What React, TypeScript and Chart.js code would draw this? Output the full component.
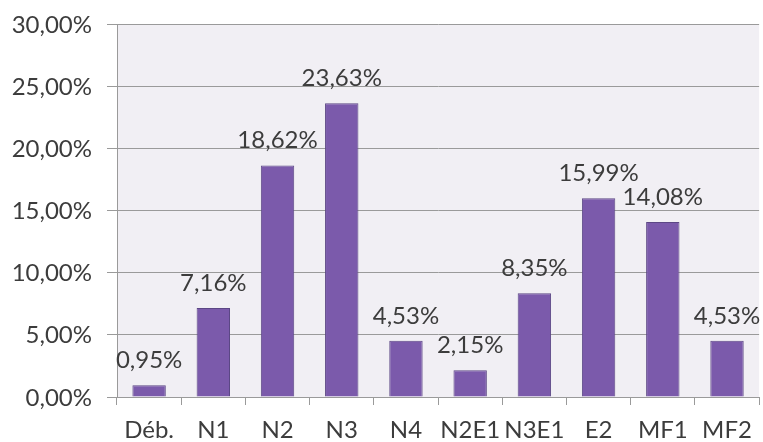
import React, { useEffect, useRef } from "react";
import { Chart, registerables } from "chart.js";

Chart.register(...registerables);

const categories = ["Déb.", "N1", "N2", "N3", "N4", "N2E1", "N3E1", "E2", "MF1", "MF2"];
const values = [0.95, 7.16, 18.62, 23.63, 4.53, 2.15, 8.35, 15.99, 14.08, 4.53];
const valueLabels = ["0,95%", "7,16%", "18,62%", "23,63%", "4,53%", "2,15%", "8,35%", "15,99%", "14,08%", "4,53%"];
const yTicks = [0, 5, 10, 15, 20, 25, 30];
const yTickLabels = ["0,00%", "5,00%", "10,00%", "15,00%", "20,00%", "25,00%", "30,00%"];

const FONT = "Lato, 'Open Sans', sans-serif";
const FSIZE = 24;
const TEXT = "#3c3c3c";

const bgPlugin = {
  id: "plotBg",
  beforeDraw(chart: any) {
    const { ctx, chartArea } = chart;
    ctx.save();
    ctx.fillStyle = "#f1eff4";
    ctx.fillRect(chartArea.left, chartArea.top, chartArea.right - chartArea.left, chartArea.bottom - chartArea.top);
    ctx.restore();
  },
};

const labelPlugin = {
  id: "valLabels",
  afterDatasetsDraw(chart: any) {
    const { ctx } = chart;
    const meta = chart.getDatasetMeta(0);
    ctx.save();
    ctx.font = FSIZE + "px " + FONT;
    ctx.fillStyle = TEXT;
    ctx.textAlign = "center";
    ctx.textBaseline = "alphabetic";
    meta.data.forEach((bar: any, i: number) => {
      ctx.fillText(valueLabels[i], bar.x, bar.y - 17);
    });
    // y axis labels
    const ys = chart.scales.y;
    ctx.textAlign = "right";
    yTicks.forEach((v, i) => {
      const y = ys.getPixelForValue(v);
      ctx.fillText(yTickLabels[i], ys.right - 25, y + 8.5);
    });
    ctx.restore();
  },
};

export default function App() {
  const ref = useRef<HTMLCanvasElement>(null);
  useEffect(() => {
    const chart = new Chart(ref.current!, {
      type: "bar",
      data: {
        labels: categories,
        datasets: [
          {
            data: values,
            backgroundColor: "#7b5aab",
            borderColor: "#5c4785",
            borderWidth: 1,
            categoryPercentage: 1,
            barPercentage: 0.52,
          },
        ],
      },
      options: {
        responsive: false,
        animation: false,
        layout: { padding: { left: 0, right: 2, top: 24, bottom: 0 } },
        plugins: { legend: { display: false }, tooltip: { enabled: false } },
        scales: {
          x: {
            grid: { drawOnChartArea: false, drawTicks: true, tickLength: 8, color: "#9a9a9a", offset: true },
            border: { color: "#9a9a9a" },
            ticks: { color: TEXT, font: { size: FSIZE, family: FONT }, padding: 11, maxRotation: 0, autoSkip: false },
            afterFit: (s: any) => { s.height = 45; },
          },
          y: {
            min: 0,
            max: 30,
            ticks: { stepSize: 5, display: false },
            grid: { color: "#9a9a9a", tickLength: 10, drawTicks: true },
            border: { color: "#9a9a9a" },
            afterFit: (s: any) => { s.width = 117; },
          },
        },
      },
      plugins: [bgPlugin, labelPlugin],
    });
    return () => chart.destroy();
  }, []);
  return (
    <div style={{ position: "fixed", left: 0, top: 0, width: 763, height: 442, background: "#fff" }}>
      <canvas ref={ref} width={763} height={442} />
    </div>
  );
}
